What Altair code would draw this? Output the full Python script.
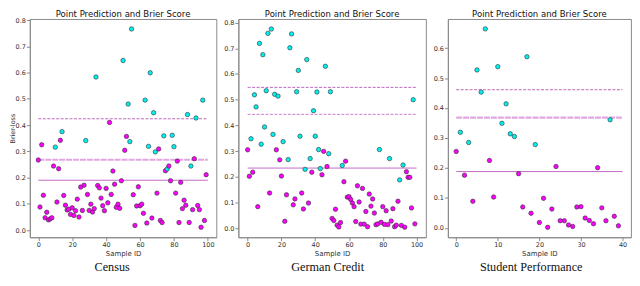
import altair as alt
import pandas as pd

TITLE = "Point Prediction and Brier Score"

census_ids = list(range(100))
census_vals = [0.267, 0.088, 0.325, 0.133, 0.047, 0.068, 0.039, 0.043, 0.047, 0.244,
               0.316, 0.107, 0.234, 0.342, 0.375, 0.132, 0.095, 0.077, 0.080, 0.060,
               0.085, 0.056, 0.074, 0.118, 0.050, 0.164, 0.075, 0.171, 0.341, 0.136,
               0.075, 0.099, 0.069, 0.082, 0.583, 0.170, 0.161, 0.122, 0.093, 0.074,
               0.159, 0.104, 0.410, 0.136, 0.225, 0.175, 0.087, 0.099, 0.083, 0.188,
               0.646, 0.304, 0.357, 0.480, 0.337, 0.766, 0.135, 0.018, 0.092, 0.165,
               0.093, 0.099, 0.064, 0.495, 0.027, 0.319, 0.599, 0.046, 0.447, 0.298,
               0.141, 0.309, 0.037, 0.029, 0.359, 0.226, 0.233, 0.244, 0.188, 0.361,
               0.318, 0.141, 0.263, 0.029, 0.182, 0.082, 0.114, 0.095, 0.440, 0.029,
               0.244, 0.078, 0.272, 0.427, 0.094, 0.078, 0.011, 0.495, 0.037, 0.211]
census_cls = ("mmmmmmmmmm" "cmmmcmmmmm" "mmmmmmmmcm" "mmmmcmmmmm" "mmmmmmmmmm"
              "cmmcccmmmm" "mmmcmccmcc" "mmmmcmcmmc" "cmmmmmmmcm" "cmmcmmmcmm")
census_lines = [0.424, 0.268, 0.190]

german_ids = list(range(100))
german_vals = [0.305, 0.202, 0.348, 0.218, 0.519, 0.472, 0.084, 0.719, 0.327, 0.675,
               0.394, 0.535, 0.758, 0.137, 0.775, 0.365, 0.521, 0.305, 0.514, 0.266,
               0.203, 0.337, 0.027, 0.130, 0.267, 0.702, 0.756, 0.091, 0.114, 0.531,
               0.614, 0.358, 0.137, 0.075, 0.229, 0.656, 0.098, 0.271, 0.218, 0.457,
               0.358, 0.530, 0.306, 0.232, 0.208, 0.299, 0.630, 0.240, 0.290, 0.531,
               0.038, 0.030, 0.074, 0.012, 0.005, 0.022, 0.244, 0.181, 0.261, 0.121,
               0.123, 0.112, 0.098, 0.084, 0.026, 0.165, 0.102, 0.016, 0.155, 0.016,
               0.065, 0.006, 0.133, 0.086, 0.114, 0.059, 0.014, 0.017, 0.306, 0.023,
               0.084, 0.015, 0.068, 0.014, 0.271, 0.028, 0.076, 0.006, 0.012, 0.105,
               0.188, 0.011, 0.246, 0.004, 0.220, 0.198, 0.198, 0.079, 0.500, 0.017]
german_cls = ("mmcmccmccc" "cccmcccmcm" "mcmmcccmmc" "ccmmccmcmc" "ccccmmcmcc"
              "mmmmmmcmmm" "mmmmmmmmmm" "mmmmmmmmcm" "mmmmcmmmmm" "cmcmmmmmcm")
german_lines = [0.548, 0.443, 0.234]

student_ids = list(range(40))
student_vals = [0.255, 0.319, 0.176, 0.285, 0.089, 0.527, 0.453, 0.664, 0.225, 0.103,
                0.538, 0.349, 0.414, 0.314, 0.305, 0.181, 0.070, 0.571, 0.049, 0.278,
                0.018, 0.099, 0.002, 0.063, 0.205, 0.024, 0.024, 0.010, 0.005, 0.070,
                0.071, 0.033, 0.025, 0.014, 0.201, 0.067, 0.024, 0.361, 0.039, 0.007]
student_cls = "mcmcmcccmm" "cccccmmcmc" "mmmmmmmmmm" "mmmmmmmcmm"
student_lines = [0.461, 0.368, 0.188]

GREY = "#8a8a8a"
TXT = "#333333"
H = 220


def panel(ids, vals, cls, lines, line_end, xdom, ydom, xticks, yticks, width,
          ytitle, caption, cap_x, mid_style):
    pts = pd.DataFrame({"id": ids, "v": vals, "c": list(cls)})
    common = dict(labelFontSize=6.5, tickSize=3.5, labelPadding=1, labelOverlap=False,
                  titleFontWeight="normal", domainColor=GREY, tickColor=GREY,
                  labelColor=TXT, titleColor=TXT, grid=False,
                  labelFont="DejaVu Sans", titleFont="DejaVu Sans")
    x_axis = alt.Axis(values=xticks, titleFontSize=7, titlePadding=1, **common)
    y_axis = alt.Axis(values=yticks, format=".1f", titleFontSize=6.5, titlePadding=0, **common)
    x_enc = alt.X("id:Q", scale=alt.Scale(domain=xdom, nice=False, zero=False),
                  axis=x_axis, title="Sample ID")
    if ytitle:
        y_enc = alt.Y("v:Q", scale=alt.Scale(domain=ydom, nice=False, zero=False),
                      axis=y_axis, title=ytitle)
    else:
        y_enc = alt.Y("v:Q", scale=alt.Scale(domain=ydom, nice=False, zero=False),
                      axis=y_axis, title=None)

    pts_layer = alt.Chart(pts).mark_point(filled=True, size=20, stroke="#303030",
                                          strokeWidth=0.6, opacity=1).encode(
        x=x_enc, y=y_enc,
        fill=alt.Fill("c:N", scale=alt.Scale(domain=["c", "m"], range=["#00f0f0", "#ff00ff"]),
                      legend=None),
    )

    ldf = pd.DataFrame({"id": [0] * 3, "id2": [line_end] * 3, "v": lines, "k": ["a", "b", "c"]})
    top = alt.Chart(ldf[ldf.k == "a"]).mark_rule(color="#b455b4", strokeWidth=0.9,
                                                  strokeDash=[3, 1.5]).encode(
        x=x_enc, x2="id2:Q", y=y_enc)
    if mid_style == "thick":
        mid = alt.Chart(ldf[ldf.k == "b"]).mark_rule(color="#e2a6e2", strokeWidth=2.2,
                                                      strokeDash=[6, 1]).encode(
            x=x_enc, x2="id2:Q", y=y_enc)
    else:
        mid = alt.Chart(ldf[ldf.k == "b"]).mark_rule(color="#c870c8", strokeWidth=0.9,
                                                      strokeDash=[3, 1.5]).encode(
            x=x_enc, x2="id2:Q", y=y_enc)
    bot = alt.Chart(ldf[ldf.k == "c"]).mark_rule(color="#c46ac4", strokeWidth=1).encode(
        x=x_enc, x2="id2:Q", y=y_enc)

    ttl = alt.Chart(pd.DataFrame({"t": [TITLE]})).mark_text(
        font="DejaVu Sans", fontSize=8.6, color="#111111", baseline="alphabetic",
        align="center").encode(text="t:N", x=alt.value(width / 2), y=alt.value(-2))

    cap = alt.Chart(pd.DataFrame({"t": [caption]})).mark_text(
        font="Liberation Serif", fontSize=12.3, color="#111111", baseline="alphabetic",
        align="center").encode(text="t:N", x=alt.value(cap_x), y=alt.value(H + 34.5))

    return alt.layer(top, mid, bot, pts_layer, ttl, cap).properties(width=width, height=H)


p1 = panel(census_ids, census_vals, census_cls, census_lines, 100, [-5, 105], [-0.027, 0.804],
           [0, 20, 40, 60, 80, 100], [0, 0.1, 0.2, 0.3, 0.4, 0.5, 0.6, 0.7, 0.8], 188,
           "Brier-loss", "Census", 83, "thick")
p2 = panel(german_ids, german_vals, german_cls, german_lines, 100, [-5.5, 105.5], [-0.035, 0.814],
           [0, 20, 40, 60, 80, 100], [0, 0.1, 0.2, 0.3, 0.4, 0.5, 0.6, 0.7, 0.8], 189,
           None, "German Credit", 90, "thin")
p3 = panel(student_ids, student_vals, student_cls, student_lines, 40, [-2, 42], [-0.031, 0.697],
           [0, 10, 20, 30, 40], [0, 0.1, 0.2, 0.3, 0.4, 0.5, 0.6], 184.5,
           None, "Student Performance", 84, "thick")

chart = alt.hconcat(p1, p2, p3, spacing=5.2).properties(
    padding={"left": 0, "top": 0, "right": 0, "bottom": -2}
).configure_view(stroke=GREY, strokeWidth=1).configure_concat(spacing=5.2)

chart.save("out.html", embed_options={"renderer": "svg", "actions": False})
